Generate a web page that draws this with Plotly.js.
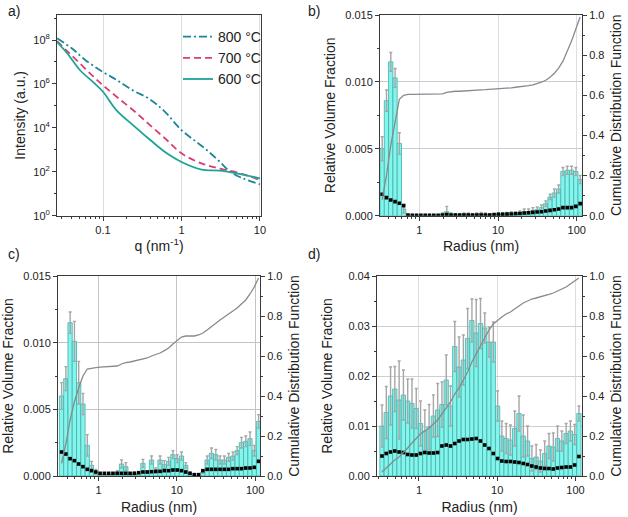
<!DOCTYPE html>
<html><head><meta charset="utf-8">
<script src="https://cdn.plot.ly/plotly-3.0.1.min.js"></script>
<style>html,body{margin:0;padding:0;background:#fff}#chart{width:628px;height:517px}</style>
</head><body><div id="chart"></div>
<script>
// ---- Panel a: scattering curves ----
const q800 = [0.026,0.04,0.06,0.1,0.15,0.24,0.38,0.59,1,1.5,2.1,3,4.2,6,10];
const i800 = [1.2e8,4.2e7,1.2e7,3.5e6,1.5e6,5.1e5,2.2e5,6.3e4,7.9e3,2.5e3,980,310,100,51,27];
const q700 = [0.026,0.035,0.051,0.075,0.1,0.149,0.243,0.4,0.65,1,1.8,3.1,5.6,10];
const i700 = [8.9e7,3.1e7,8.5e6,2.2e6,8.7e5,2.6e5,6.3e4,1.3e4,2.8e3,690,240,140,85,42];
const q600 = [0.026,0.035,0.051,0.075,0.1,0.149,0.243,0.4,0.65,1,1.8,3.1,5.6,10];
const i600 = [8.1e7,2.5e7,4.2e6,1.2e6,4.4e5,6.3e4,1.3e4,2.8e3,690,280,126,112,79,50];
const seriesNames = ['800 °C','700 °C','600 °C'];

// ---- Size distributions (bin centres, nm) ----
const radius = [0.337,0.382,0.433,0.491,0.557,0.632,0.717,0.813,0.922,1.046,1.187,1.346,1.527,1.731,1.964,2.228,2.527,2.866,3.251,3.687,4.182,4.742,5.379,6.101,6.920,7.849,8.903,10.10,11.45,12.99,14.73,16.71,18.95,21.50,24.38,27.66,31.37,35.58,40.36,45.78,51.92,58.88,66.79,75.76,85.93,97.46,110.5];

// panel b
const bVol = [0.0050,0.0086,0.0115,0.0103,0.0054,0.0005,0,0,0,0,0,0,0,0,0.0001,0.0003,0.0001,0.00005,0.00005,0.0001,0.0001,0.00005,0.0001,0.00015,0.0001,0.00005,0.00005,0.0001,0.00012,0.00015,0.0002,0.0002,0.00025,0.0003,0.0003,0.0004,0.00045,0.0006,0.0009,0.0014,0.0017,0.0020,0.0033,0.0034,0.0034,0.0033,0.0027];
const bErr = [0.0009,0.0008,0.0007,0.0007,0.0008,0.0003,0,0,0,0,0,0,0,0,0.0001,0.0004,0.0001,0.0001,0.0001,0.0001,0.0001,0.0001,0.0001,0.0001,0.0001,0.0001,0.0001,0.0001,0.0001,0.0001,0.0001,0.0001,0.0001,0.0002,0.0002,0.0002,0.0002,0.0002,0.0002,0.0002,0.0003,0.0003,0.0003,0.0003,0.0003,0.0003,0.0003];
const bMin = [0.0016,0.00135,0.00117,0.00105,0.00093,0.00075,0.00005,0.00003,0.00003,0.00003,0.00003,0.00003,0.00003,0.00003,0.00005,0.00008,0.00005,0.00005,0.00005,0.00005,0.00005,0.00005,0.00005,0.00005,0.00005,0.00005,0.00008,0.0001,0.0001,0.00012,0.00013,0.00015,0.00017,0.0002,0.00022,0.00025,0.00028,0.0003,0.00035,0.0004,0.00045,0.0005,0.0006,0.0006,0.0006,0.0007,0.0009];
const bCdf = [0.08,0.2,0.35,0.47,0.58,0.6,0.605,0.605,0.605,0.605,0.605,0.605,0.605,0.605,0.607,0.615,0.618,0.62,0.62,0.622,0.624,0.625,0.626,0.627,0.628,0.629,0.63,0.632,0.633,0.635,0.637,0.64,0.642,0.645,0.648,0.652,0.658,0.665,0.675,0.69,0.71,0.735,0.77,0.82,0.87,0.93,0.99];

// panel c
const cVol = [0.0060,0.0073,0.0115,0.0101,0.0070,0.0054,0.0023,0.0008,0.0003,0.0001,0.0001,0.0001,0.0001,0.0003,0.0009,0.0007,0.0001,0.0002,0.0001,0.00095,0.0003,0.0012,0.0004,0.0012,0.00085,0.0011,0.0016,0.0013,0.0015,0.0008,0.0002,0,0,0.0003,0.0012,0.0017,0.0016,0.0012,0.0012,0.0014,0.0015,0.0019,0.0025,0.0026,0.0028,0.0019,0.0041];
const cErr = [0.001,0.0009,0.0008,0.0015,0.0016,0.0008,0.0008,0.0003,0.0002,0.0001,0.0001,0.0001,0.0001,0.0001,0.0003,0.0003,0.0001,0.0001,0.0001,0.0003,0.0001,0.0003,0.0002,0.0003,0.0003,0.0003,0.0003,0.0003,0.0003,0.0002,0.0001,0,0,0.0001,0.0003,0.0004,0.0004,0.0003,0.0003,0.0003,0.0003,0.0003,0.0004,0.0004,0.0005,0.0004,0.0005];
const cMin = [0.0018,0.00165,0.0013,0.00115,0.0009,0.0007,0.0005,0.0004,0.0003,0.0002,0.0002,0.0002,0.0002,0.0002,0.0002,0.0002,0.0002,0.0002,0.00025,0.0003,0.0003,0.00032,0.00035,0.00035,0.0004,0.0004,0.00045,0.00045,0.0004,0.0003,0.0002,0.0001,0.0001,0.0004,0.0005,0.0005,0.0005,0.0005,0.0005,0.0005,0.00055,0.00055,0.00055,0.0006,0.0006,0.00065,0.0011];
const cCdf = [0.063,0.16,0.28,0.37,0.44,0.5,0.535,0.54,0.542,0.544,0.545,0.546,0.547,0.55,0.56,0.567,0.57,0.575,0.58,0.585,0.59,0.6,0.607,0.615,0.627,0.64,0.66,0.68,0.695,0.7,0.7,0.7,0.705,0.715,0.73,0.748,0.765,0.78,0.795,0.81,0.825,0.84,0.86,0.88,0.91,0.945,0.99];

// panel d
const dVol = [0.0100,0.0127,0.0160,0.0174,0.0152,0.0162,0.0150,0.0145,0.0135,0.0105,0.0090,0.0098,0.0120,0.0132,0.0143,0.0192,0.0140,0.0259,0.0218,0.0232,0.0275,0.0311,0.0286,0.0305,0.0296,0.0268,0.0268,0.0140,0.0080,0.0075,0.0072,0.0095,0.0125,0.0080,0.0070,0.0035,0.0038,0.0030,0.0045,0.0060,0.0058,0.0075,0.0070,0.0085,0.0090,0.0083,0.0125];
const dErr = [0.0042,0.0052,0.0058,0.0045,0.0078,0.005,0.0044,0.0049,0.004,0.0045,0.0042,0.0045,0.0042,0.0053,0.0045,0.005,0.004,0.005,0.006,0.005,0.006,0.0043,0.0067,0.005,0.003,0.003,0.004,0.003,0.003,0.003,0.003,0.0035,0.0035,0.0042,0.003,0.0025,0.0025,0.0022,0.0025,0.0025,0.0028,0.0025,0.002,0.002,0.002,0.002,0.0015];
const dMin = [0.0040,0.0045,0.0048,0.0050,0.0048,0.0047,0.0043,0.0042,0.0042,0.0045,0.0047,0.0046,0.0046,0.0047,0.0060,0.0062,0.0060,0.0065,0.0070,0.0073,0.0073,0.0074,0.0075,0.0070,0.0062,0.0055,0.0045,0.0035,0.0030,0.0029,0.0029,0.0028,0.0027,0.0025,0.0023,0.0020,0.0018,0.0016,0.0015,0.0015,0.0014,0.0016,0.0017,0.0018,0.0018,0.0022,0.0039];
const dCdf = [0.02,0.04,0.06,0.08,0.095,0.115,0.14,0.165,0.19,0.21,0.225,0.24,0.26,0.28,0.31,0.34,0.37,0.41,0.44,0.48,0.52,0.57,0.61,0.65,0.69,0.73,0.76,0.78,0.795,0.81,0.82,0.835,0.85,0.865,0.875,0.885,0.89,0.895,0.9,0.908,0.915,0.925,0.935,0.945,0.96,0.975,0.99];

const FONT = 'Liberation Sans, Arial, sans-serif';
const AX = '#3a3a3a';
// bar geometry on the log axis: each bin spans +/- half a log step around its centre
const halfStep = 0.02735;
const lo = radius.map(r => r / Math.pow(10, halfStep));
const hi = radius.map(r => r * Math.pow(10, halfStep));
const barOffset = radius.map((r, i) => lo[i] - r);
const barWidth = radius.map((r, i) => hi[i] - lo[i]);

function panel(xa, ya, yr, vol, err, mn, cdf) {
  return [
    {type:'bar', x:radius, y:vol, xaxis:xa, yaxis:ya, offset:barOffset, width:barWidth,
     marker:{color:'#84f4ec', line:{color:'#3fb3ab', width:0.8}},
     error_y:{type:'data', array:err, visible:true, color:'#a6a6a6', thickness:1.4, width:1.5},
     showlegend:false, hoverinfo:'skip'},
    {type:'scatter', mode:'markers', x:radius, y:mn, xaxis:xa, yaxis:ya,
     marker:{symbol:'square', size:3.6, color:'#000'}, showlegend:false},
    {type:'scatter', mode:'lines', x:radius, y:cdf, xaxis:xa, yaxis:yr,
     line:{color:'#8a8a8a', width:1.3}, showlegend:false}
  ];
}

const traces = [
  {type:'scatter', mode:'lines', name:seriesNames[0], x:q800, y:i800, xaxis:'x', yaxis:'y',
   line:{color:'#1d8797', width:1.8, dash:'8px,3px,2px,3px', shape:'spline'}},
  {type:'scatter', mode:'lines', name:seriesNames[1], x:q700, y:i700, xaxis:'x', yaxis:'y',
   line:{color:'#d83f72', width:1.8, dash:'7px,4px', shape:'spline'}},
  {type:'scatter', mode:'lines', name:seriesNames[2], x:q600, y:i600, xaxis:'x', yaxis:'y',
   line:{color:'#1ea496', width:1.8, shape:'spline'}},
  ...panel('x2','y2','y3', bVol, bErr, bMin, bCdf),
  ...panel('x3','y4','y5', cVol, cErr, cMin, cCdf),
  ...panel('x4','y6','y7', dVol, dErr, dMin, dCdf)
];

const W = 628, H = 517;
const dom = (a, b) => [a / W, b / W];
const vdom = (top, bot) => [1 - bot / H, 1 - top / H];
const titleFont = {family:FONT, size:14, color:'#222'};

function xLog(domain, range, anchor, gridcolor, showTitle, titleText) {
  return {type:'log', domain:domain, range:range, anchor:anchor, dtick:1,
    ticks:'outside', ticklen:4, tickcolor:AX, showline:true, linecolor:AX, mirror:true,
    showgrid:true, gridcolor:gridcolor, zeroline:false,
    minor:{ticks:'outside', ticklen:2, tickcolor:AX, showgrid:false},
    title:{text:titleText, font:titleFont, standoff:6}};
}
function yLeft(domain, range, anchor, dtick, fmt, gridcolor, standoff) {
  return {domain:domain, range:range, anchor:anchor, dtick:dtick, tickformat:fmt,
    ticks:'outside', ticklen:4, tickcolor:AX, showline:true, linecolor:AX,
    showgrid:true, gridcolor:gridcolor, zeroline:false,
    minor:{ticks:'outside', ticklen:2, tickcolor:AX, dtick:dtick/2, showgrid:false},
    title:{text:'Relative Volume Fraction', font:titleFont, standoff:standoff}};
}
function yRight(anchor, over, standoff) {
  return {overlaying:over, anchor:anchor, side:'right', range:[0,1], dtick:0.2, tickformat:'.1f',
    ticks:'outside', ticklen:4, tickcolor:AX, showline:true, linecolor:AX,
    showgrid:false, zeroline:false,
    minor:{ticks:'outside', ticklen:2, tickcolor:AX, dtick:0.1},
    title:{text:'Cumulative Distribution Function', font:titleFont, standoff:standoff}};
}

const layout = {
  width:W, height:H, margin:{l:0,r:0,t:0,b:0}, paper_bgcolor:'#fff', plot_bgcolor:'#fff',
  font:{family:FONT, size:11, color:'#222'}, barmode:'overlay', bargap:0,
  showlegend:true,
  legend:{x:178/W, y:1-21/H, xanchor:'left', yanchor:'top', bgcolor:'rgba(0,0,0,0)',
    font:{family:FONT, size:14, color:'#222'}, tracegroupgap:0},
  xaxis: Object.assign(xLog(dom(57,261), [-1.586,1.013], 'y', '#dcdcdc', true, 'q (nm<sup>-1</sup>)'), {}),
  yaxis: {domain:vdom(15,215.7), type:'log', range:[0,9.14], anchor:'x',
    tickvals:[1,100,1e4,1e6,1e8],
    ticktext:['10<sup>0</sup>','10<sup>2</sup>','10<sup>4</sup>','10<sup>6</sup>','10<sup>8</sup>'],
    ticks:'outside', ticklen:4, tickcolor:AX, showline:true, linecolor:AX, mirror:true,
    showgrid:false, zeroline:false,
    minor:{ticks:'outside', ticklen:2, tickcolor:AX, tickvals:[10,1e3,1e5,1e7,1e9]},
    title:{text:'Intensity (a.u.)', font:titleFont, standoff:4}},
  xaxis2: xLog(dom(380,582), [-0.5,2.067], 'y2', '#dcdde6', true, 'Radius (nm)'),
  yaxis2: yLeft(vdom(15,215.7), [0,0.015], 'x2', 0.005, '.3f', '#c8cad4', 6),
  yaxis3: yRight('x2', 'y2', 7),
  xaxis3: xLog(dom(58,260), [-0.518,2.062], 'y4', '#c4c4c4', true, 'Radius (nm)'),
  yaxis4: yLeft(vdom(276,476), [0,0.015], 'x3', 0.005, '.3f', '#c4c4c4', 6),
  yaxis5: yRight('x3', 'y4', 7),
  xaxis4: xLog(dom(377,582), [-0.536,2.083], 'y6', '#dedede', true, 'Radius (nm)'),
  yaxis6: yLeft(vdom(276,476), [0,0.04], 'x4', 0.01, '.2f', '#cfcfcf', 12),
  yaxis7: yRight('x4', 'y6', 7),
  annotations: [
    {text:'a)', x:6/W, y:1-11/H},
    {text:'b)', x:306/W, y:1-11/H},
    {text:'c)', x:6/W, y:1-254/H},
    {text:'d)', x:306/W, y:1-254/H}
  ].map(a => Object.assign({xref:'paper', yref:'paper', xanchor:'left', yanchor:'middle',
      showarrow:false, font:{family:FONT, size:14, color:'#222'}}, a))
};

Plotly.newPlot('chart', traces, layout, {staticPlot:true, displayModeBar:false});
</script>
</body></html>
